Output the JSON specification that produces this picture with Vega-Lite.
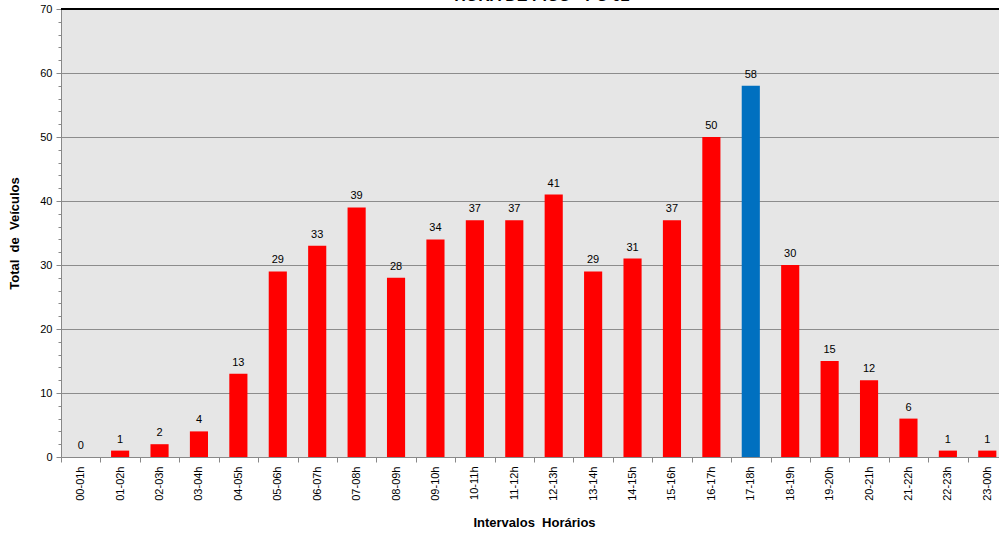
{
  "$schema": "https://vega.github.io/schema/vega-lite/v6.json",
  "width": 938,
  "height": 448,
  "autosize": "none",
  "padding": {"left": 61, "top": 9, "right": 0, "bottom": 80},
  "background": "white",
  "title": {
    "text": "HORA DE PICO - PC 02",
    "fontSize": 16,
    "font": "Liberation Sans",
    "fontWeight": "bold",
    "color": "#000000",
    "anchor": "middle",
    "frame": "group",
    "baseline": "alphabetic",
    "offset": 0,
    "dy": 14,
    "dx": 12
  },
  "config": {
    "view": {"fill": "#e6e6e6", "stroke": null},
    "font": "Liberation Sans"
  },
  "resolve": {"axis": {"y": "independent"}},
  "data": {
    "values": [
      {"intervalo": "00-01h", "total": 0, "pico": "n"},
      {"intervalo": "01-02h", "total": 1, "pico": "n"},
      {"intervalo": "02-03h", "total": 2, "pico": "n"},
      {"intervalo": "03-04h", "total": 4, "pico": "n"},
      {"intervalo": "04-05h", "total": 13, "pico": "n"},
      {"intervalo": "05-06h", "total": 29, "pico": "n"},
      {"intervalo": "06-07h", "total": 33, "pico": "n"},
      {"intervalo": "07-08h", "total": 39, "pico": "n"},
      {"intervalo": "08-09h", "total": 28, "pico": "n"},
      {"intervalo": "09-10h", "total": 34, "pico": "n"},
      {"intervalo": "10-11h", "total": 37, "pico": "n"},
      {"intervalo": "11-12h", "total": 37, "pico": "n"},
      {"intervalo": "12-13h", "total": 41, "pico": "n"},
      {"intervalo": "13-14h", "total": 29, "pico": "n"},
      {"intervalo": "14-15h", "total": 31, "pico": "n"},
      {"intervalo": "15-16h", "total": 37, "pico": "n"},
      {"intervalo": "16-17h", "total": 50, "pico": "n"},
      {"intervalo": "17-18h", "total": 58, "pico": "s"},
      {"intervalo": "18-19h", "total": 30, "pico": "n"},
      {"intervalo": "19-20h", "total": 15, "pico": "n"},
      {"intervalo": "20-21h", "total": 12, "pico": "n"},
      {"intervalo": "21-22h", "total": 6, "pico": "n"},
      {"intervalo": "22-23h", "total": 1, "pico": "n"},
      {"intervalo": "23-00h", "total": 1, "pico": "n"}
    ]
  },
  "encoding": {
    "x": {
      "field": "intervalo",
      "type": "nominal",
      "sort": null,
      "scale": {"range": [0, 946], "paddingInner": 0.54, "paddingOuter": 0.27},
      "axis": {
        "title": "Intervalos \u00a0Horários",
        "titleFontSize": 13,
        "titleFontWeight": "bold",
        "titleColor": "#000000",
        "titlePadding": 16,
        "labelAngle": -90,
        "labelFontSize": 11,
        "labelColor": "#000000",
        "labelPadding": 4,
        "bandPosition": 0,
        "tickOffset": -10.6,
        "labelOffset": 10.6,
        "domainColor": "#888888",
        "tickColor": "#888888",
        "tickSize": 5,
        "grid": false
      }
    }
  },
  "layer": [
    {
      "mark": {"type": "bar"},
      "encoding": {
        "y": {
          "field": "total",
          "type": "quantitative",
          "scale": {"domain": [0, 70], "nice": false},
          "axis": {
            "orient": "left",
            "title": "Total \u00a0de \u00a0Veículos",
            "titleFontSize": 13,
            "titleFontWeight": "bold",
            "titleColor": "#000000",
            "titlePadding": 18,
            "values": [0, 10, 20, 30, 40, 50, 60, 70],
            "labelFontSize": 11,
            "labelColor": "#000000",
            "labelPadding": 4,
            "domainColor": "#888888",
            "tickColor": "#888888",
            "tickSize": 5,
            "gridColor": "#8c8c8c",
            "gridWidth": 1
          }
        },
        "color": {
          "field": "pico",
          "type": "nominal",
          "scale": {"domain": ["n", "s"], "range": ["#ff0000", "#0070c0"]},
          "legend": null
        }
      }
    },
    {
      "mark": {"type": "text", "baseline": "bottom", "dy": -6, "fontSize": 11, "color": "#000000"},
      "encoding": {
        "y": {
          "field": "total",
          "type": "quantitative",
          "axis": {
            "orient": "left",
            "title": null,
            "values": [2, 4, 6, 8, 12, 14, 16, 18, 22, 24, 26, 28, 32, 34, 36, 38, 42, 44, 46, 48, 52, 54, 56, 58, 62, 64, 66, 68],
            "labels": false,
            "domain": false,
            "grid": false,
            "tickColor": "#888888",
            "tickSize": 3
          }
        },
        "text": {"field": "total", "type": "quantitative"}
      }
    },
    {
      "mark": {"type": "rule", "color": "#000000", "strokeWidth": 1.5},
      "encoding": {"y": {"datum": 70, "axis": null}, "x": {"value": 0}, "x2": {"value": 946}}
    }
  ]
}
